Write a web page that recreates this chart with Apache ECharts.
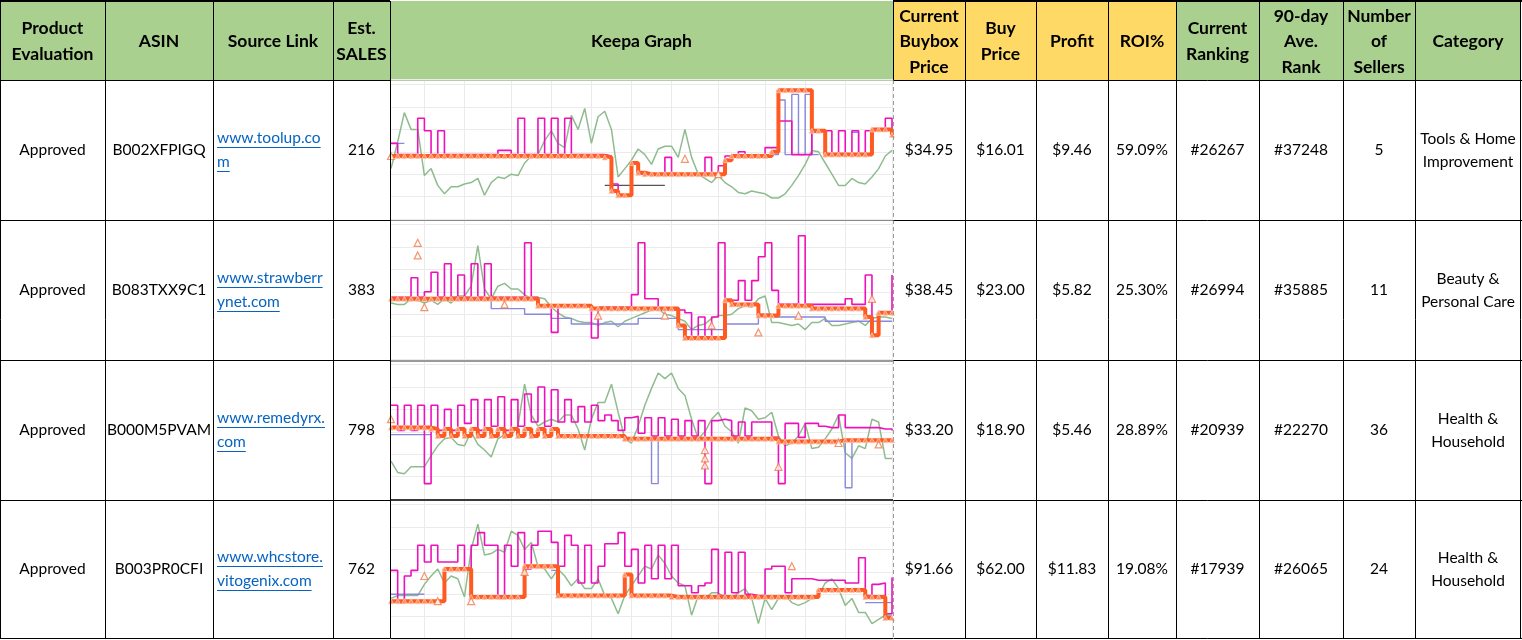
<!DOCTYPE html>
<html>
<head>
<meta charset="utf-8">
<script src="https://cdn.jsdelivr.net/npm/echarts@6/dist/echarts.min.js"></script>
<style>
html, body { margin: 0; padding: 0; background: #fff; }
#chart { width: 1522px; height: 640px; }
</style>
</head>
<body>
<div id="chart"></div>
<script>
// table values
var headers = ["Product\nEvaluation", "ASIN", "Source Link", "Est.\nSALES", "Keepa Graph",
    "Current\nBuybox\nPrice", "Buy\nPrice", "Profit", "ROI%", "Current\nRanking",
    "90-day\nAve.\nRank", "Number\nof\nSellers", "Category"];
var yellowHeaders = ["Current\nBuybox\nPrice", "Buy\nPrice", "Profit", "ROI%"];
var evaluations = ["Approved", "Approved", "Approved", "Approved"];
var asins = ["B002XFPIGQ", "B083TXX9C1", "B000M5PVAM", "B003PR0CFI"];
var sourceLinks = [["www.toolup.co", "m"], ["www.strawberr", "ynet.com"], ["www.remedyrx.", "com"], ["www.whcstore.", "vitogenix.com"]];
var estSales = [216, 383, 798, 762];
var buyboxPrices = ["$34.95", "$38.45", "$33.20", "$91.66"];
var buyPrices = ["$16.01", "$23.00", "$18.90", "$62.00"];
var profits = ["$9.46", "$5.82", "$5.46", "$11.83"];
var rois = ["59.09%", "25.30%", "28.89%", "19.08%"];
var currentRanks = ["#26267", "#26994", "#20939", "#17939"];
var avgRanks = ["#37248", "#35885", "#22270", "#26065"];
var sellerCounts = [5, 11, 36, 24];
var categories = ["Tools & Home\nImprovement", "Beauty &\nPersonal Care", "Health &\nHousehold", "Health &\nHousehold"];

// keepa graphs (rank: 0 = top, prices: 100 = top)
var g1Rank = [64,45,24,36,36,69,64,76,82,77, 77,75,74,71,83,74,70,71,68,69, 60,55,54,44,37,46,49,26,36,21,
    46,27,23,36,70,64,58,50,54,61, 50,48,48,56,36,56,68,71,74,69, 74,77,81,82,80,81,82,85,85,82,
    76,69,61,51,52,60,68,76,76,71, 74,75,70,64,55,51];
var g1Buybox = [54,46,46,46,72,63,46,63,46,46, 46,46,46,46,46,46,49,49,46,72, 46,46,72,46,72,46,72,46,46,46,
    46,46,45,25,17,17,40,32,32,32, 32,44,32,32,32,32,32,44,32,38, 45,45,48,45,45,45,51,51,70,70,
    46,46,46,62,63,63,46,63,46,63, 46,63,63,63,72,63];
var g1Amazon = [45,45,45,45,45,45,45,45,45,45, 45,45,45,45,45,45,45,45,45,45, 45,45,45,45,45,45,45,45,45,45,
    45,45,44,20,17,17,40,33,32,32, 32,32,32,32,32,32,32,32,32,32, 42,45,45,45,45,45,45,48,92,92,
    92,92,92,63,63,46,46,46,46,46, 46,46,64,64,64,60];
var g1New = [54,54,null,null,null,null,null,null,null,null, null,null,null,null,null,null,null,null,null,null,
    null,null,null,null,null,null,null,null,null,null, null,null,null,null,null,null,null,null,null,null,
    null,null,null,null,null,null,null,null,null,null, null,null,null,null,null,null,null,46,85,46,
    89,46,89,46,null,null,null,null,null,62, 46,null,null,null,null,null];
var g1Used = [null,null,null,null,null,null,null,null,null,null, null,null,null,null,null,null,null,null,null,null,
    null,null,null,null,null,null,null,null,null,null, null,null,24,24,24,24,24,24,24,24,
    24,null,null,null,null,null,null,null,null,null, null,null,null,null,null,null,null,null,null,null,
    null,null,null,null,null,null,null,null,null,null, null,null,null,null,null,null];
var g1Marks = [[44, 43], [49, 32], [0, 45]];

var g2Rank = [60,61,61,57,58,60,58,61,57,60, 55,55,48,19,50,57,48,46,50,50, 54,57,56,57,63,67,70,71,73,74,
    74,76,74,73,77,73,71,69,67,65, 64,68,69,71,73,79,76,75,71,69, 69,68,64,62,63,57,55,74,74,75,
    76,75,79,74,74,71,76,76,75,74, 73,76,71,70,70,71];
var g2Buybox = [44,44,44,58,44,48,62,44,68,44, 60,44,68,44,68,44,44,44,44,44, 83,44,38,38,19,38,38,38,38,38,
    15,37,37,37,37,37,46,83,43,43, 35,35,35,35,33,15,30,15,30,83, 42,42,56,42,56,73,83,49,39,39,
    39,88,39,39,39,39,39,39,43,39, 39,60,17,33,33,60];
var g2Amazon = [43,43,43,43,43,43,43,43,43,43, 43,43,43,43,43,43,43,43,43,43, 43,43,38,38,38,38,38,38,38,38,
    36,36,36,36,36,36,36,36,36,36, 36,36,36,24,15,15,15,15,15,15, 42,39,39,39,39,31,31,31,38,38,
    38,38,38,36,36,36,36,36,36,36, 36,30,17,33,33,33];
var g2New = [42,42,42,42,42,42,42,42,42,42, 42,42,42,42,42,36,36,36,36,36, 32,32,32,32,29,29,29,25,25,25,
    25,25,25,25,25,25,25,29,29,29, 29,29,29,21,21,21,21,21,21,21, 25,25,25,25,25,32,32,30,30,30,
    30,30,30,30,30,27,27,27,27,27, 27,27,27,27,27,27];
var g2Marks = [[4, 83], [4, 74], [5, 37], [17, 39], [31, 31], [41, 31], [48, 24], [55, 19], [61, 31], [72, 43]];

var g3Rank = [73,81,82,77,77,77,69,62,57,56, 61,62,52,61,65,70,57,54,54,48, 18,40,48,45,43,45,40,40,50,65,
    43,31,31,18,38,57,60,48,33,21, 10,14,10,21,26,43,57,52,43,38, 48,52,60,35,37,43,42,38,55,62,
    60,55,46,64,63,57,50,40,67,71, 62,64,43,45,71,71];
var g3Buybox = [67,49,67,49,67,11,67,49,64,49, 67,54,71,49,71,52,73,49,71,52, 75,55,80,52,78,55,71,55,66,55,
    67,56,60,56,49,58,59,47,58,45, 58,45,57,45,56,45,56,11,56,57, 56,45,55,45,55,55,55,44,11,54,
    54,44,54,54,52,51,51,60,51,51, 51,51,51,50,50,49];
var g3Amazon = [51,51,51,51,51,51,50,45,50,45, 50,45,50,45,50,45,50,45,50,45, 50,45,50,45,50,45,45,45,45,45,
    45,45,45,45,45,43,43,43,43,43, 43,43,43,43,43,43,43,43,43,43, 43,43,43,43,43,43,43,43,41,41,
    41,41,41,41,41,41,41,42,42,42, 42,42,42,42,42,42];
var g3New = [46,46,46,46,46,46,null,null,null,null, null,null,null,null,null,null,null,null,null,null,
    null,null,null,null,null,null,null,null,null,null, null,null,null,null,null,null,null,null,43,11,
    43,null,null,null,null,null,null,null,null,null, null,null,null,null,null,null,null,null,null,null,
    null,null,null,null,null,null,null,42,8,42, null,null,null,null,null,null];
var g3Marks = [[0, 57], [47, 35], [47, 29], [47, 24], [58, 23], [67, 40], [73, 39]];

var g4Rank = [71,69,69,69,69,61,55,50,60,55, 57,70,36,18,40,39,36,38,23,26, 36,31,48,50,57,50,55,62,57,64,
    64,57,69,71,82,69,62,55,48,50, 40,46,55,60,62,83,69,71,67,67, 71,71,67,64,71,89,71,79,71,69,
    74,76,74,71,69,60,57,64,76,71, 81,81,89,86,83,83];
var g4Buybox = [49,26,45,49,67,55,67,55,55,55, 67,50,67,76,67,67,29,67,52,76, 50,67,77,77,69,52,74,67,40,67,
    40,52,68,68,76,52,64,40,67,43, 67,43,67,38,38,33,38,40,64,31, 62,33,62,32,31,31,50,52,52,33,
    43,43,43,42,42,42,42,42,40,40, 58,31,39,40,18,44];
var g4Amazon = [27,27,27,27,27,27,27,27,50,50, 50,50,30,30,30,30,30,30,30,30, 52,52,52,52,52,31,31,31,31,31,
    31,31,31,31,31,46,31,31,31,31, 31,31,30,30,30,30,30,30,30,30, 30,30,30,30,30,30,30,30,30,30,
    30,30,30,30,35,35,35,35,35,35, 35,30,30,30,15,15];
var g4New = [32,32,32,32,32,null,null,null,null,null, null,49,29,null,null,null,null,null,null,null,
    null,null,null,null,49,31,null,null,null,null, null,null,null,null,null,null,null,null,null,null,
    null,null,null,null,null,null,null,null,null,null, null,null,null,null,null,null,null,null,null,null,
    null,null,null,null,null,null,null,null,null,null, null,26,26,26,26,null];
var g4Marks = [[5, 45], [7, 27], [12, 27], [20, 48], [60, 52]];

var keepaGraphs = [
    { rank: g1Rank, buybox: g1Buybox, amazon: g1Amazon, newPrice: g1New, used: g1Used, marks: g1Marks },
    { rank: g2Rank, buybox: g2Buybox, amazon: g2Amazon, newPrice: g2New, used: null, marks: g2Marks },
    { rank: g3Rank, buybox: g3Buybox, amazon: g3Amazon, newPrice: g3New, used: null, marks: g3Marks },
    { rank: g4Rank, buybox: g4Buybox, amazon: g4Amazon, newPrice: g4New, used: null, marks: g4Marks }
];

// layout
var colEdges = [0, 105, 213, 333, 390, 893, 965, 1036, 1108, 1176, 1259, 1343, 1415, 1521];
var rowEdges = [1, 80, 220, 360, 500, 638];
var gridLineIdx = [5, 11, 18, 24, 30, 36, 42, 49, 56, 62, 68, 75];
var FONT = 'Lato, "Noto Sans", sans-serif';

var sampleDays = [];
for (var d = 0; d < g1Rank.length; d++) sampleDays.push(String(d));

var measureCtx = document.createElement('canvas').getContext('2d');
function textWidth(str, font)
{
    measureCtx.font = font;
    return measureCtx.measureText(str).width;
}

function addText(els, str, x, y, font, fill, align, lineHeight)
{
    els.push({
        type: 'text', x: x, y: y, z: 30,
        style: {
            text: str, font: font, fill: fill,
            align: align, textAlign: align,
            verticalAlign: 'middle', textVerticalAlign: 'middle',
            lineHeight: lineHeight
        }
    });
}

function addLine(els, x1, y1, x2, y2, color, width, dash)
{
    els.push({
        type: 'line', z: 40,
        shape: { x1: x1, y1: y1, x2: x2, y2: y2 },
        style: { stroke: color, lineWidth: width, lineDash: dash || null }
    });
}

function buildTable()
{
    var els = [];
    var headFont = 'bold 17.5px ' + FONT;
    var cellFont = '15.5px ' + FONT;

    // header cells
    headers.forEach(function (h, c) {
        var x0 = colEdges[c], x1 = colEdges[c + 1];
        els.push({
            type: 'rect', z: 0,
            shape: { x: x0, y: 1, width: x1 - x0, height: 79 },
            style: { fill: yellowHeaders.indexOf(h) >= 0 ? '#ffd966' : '#a9d08e' }
        });
        addText(els, h, (x0 + x1) / 2, 41.5, headFont, '#000', 'center', 25.5);
    });

    // body cells
    for (var r = 0; r < asins.length; r++) {
        var cy = (rowEdges[r + 1] + rowEdges[r + 2]) / 2;
        var cells = [evaluations[r], asins[r], null, String(estSales[r]), null, buyboxPrices[r],
            buyPrices[r], profits[r], rois[r], currentRanks[r], avgRanks[r], String(sellerCounts[r]), categories[r]];
        cells.forEach(function (v, c) {
            if (v === null) return;
            var cx = (colEdges[c] + colEdges[c + 1]) / 2;
            addText(els, v, cx, cy, cellFont, '#000', 'center', 23);
        });
        // hyperlink, two lines, underlined
        var lines = sourceLinks[r];
        var lx = colEdges[2] + 4;
        lines.forEach(function (t, k) {
            var ly = cy - 12 + k * 24;
            addText(els, t, lx, ly, cellFont, '#0563c1', 'left', 24);
            addLine(els, lx, ly + 9.5, lx + textWidth(t, cellFont), ly + 9.5, '#0563c1', 1);
        });
    }

    // vertical borders
    colEdges.forEach(function (x, i) {
        if (x === 893) {
            addLine(els, x + 0.5, 1, x + 0.5, 80, '#000', 1);
            addLine(els, x + 0.5, 80, x + 0.5, 640, '#9a9a9a', 1, [4, 3]);
        } else {
            var xx = (i === colEdges.length - 1) ? x - 0.5 : x + 0.5;
            addLine(els, xx, 1, xx, 638.5, '#000', 1);
        }
    });

    // horizontal borders
    addLine(els, 0, 1, 390, 1, '#000', 2);
    addLine(els, 893, 1, 1522, 1, '#000', 2);
    for (var k = 1; k < rowEdges.length; k++) {
        var y = rowEdges[k] + 0.5;
        addLine(els, 0, y, 390.5, y, '#000', 1);
        addLine(els, 893.5, y, 1522, y, '#000', 1);
    }
    addLine(els, 391, 80.5, 893, 80.5, '#b8c9ad', 1);
    addLine(els, 391, 220.5, 893, 220.5, '#8a8a8a', 1);
    addLine(els, 391, 361, 893, 361, '#9a9a9a', 2);
    addLine(els, 391, 500, 893, 500, '#3a3a3a', 2);
    addLine(els, 391, 638.5, 893, 638.5, '#000', 1);
    return els;
}

function buildKeepa()
{
    var grids = [], xAxes = [], yAxes = [], series = [];
    keepaGraphs.forEach(function (g, i) {
        grids.push({ left: 391, top: rowEdges[i + 1] - 1, width: 501, height: 140, show: false });
        xAxes.push({
            type: 'category', gridIndex: i, data: sampleDays, boundaryGap: false,
            axisLine: { show: false }, axisTick: { show: false }, axisLabel: { show: false },
            splitLine: {
                show: true,
                interval: function (idx) { return gridLineIdx.indexOf(idx) >= 0; },
                lineStyle: { color: '#ebebeb', width: 1 }
            }
        });
        // price axis
        yAxes.push({
            type: 'value', gridIndex: i, min: 0, max: 100, interval: 16,
            axisLine: { show: false }, axisTick: { show: false }, axisLabel: { show: false },
            splitLine: { show: true, lineStyle: { color: '#ebebeb', width: 1 } }
        });
        // sales rank axis, inverted like keepa
        yAxes.push({
            type: 'value', gridIndex: i, min: 0, max: 100, inverse: true, show: false,
            splitLine: { show: false }
        });
        var px = 2 * i, rk = 2 * i + 1;
        series.push({
            type: 'line', name: 'Sales Rank', xAxisIndex: i, yAxisIndex: rk, data: g.rank,
            showSymbol: false, z: 1, lineStyle: { color: '#8fbc8f', width: 1.5 }
        });
        series.push({
            type: 'line', name: 'New', xAxisIndex: i, yAxisIndex: px, data: g.newPrice, step: 'end',
            showSymbol: false, connectNulls: false, z: 2, lineStyle: { color: '#8888dd', width: 1.4 }
        });
        if (g.used) {
            series.push({
                type: 'line', name: 'Used', xAxisIndex: i, yAxisIndex: px, data: g.used, step: 'end',
                showSymbol: false, z: 2, lineStyle: { color: '#555555', width: 1.3 }
            });
        }
        series.push({
            type: 'line', name: 'Buy Box', xAxisIndex: i, yAxisIndex: px, data: g.buybox, step: 'end',
            showSymbol: false, z: 3, lineStyle: { color: '#ee10bc', width: 1.6 }
        });
        series.push({
            type: 'line', name: 'Amazon', xAxisIndex: i, yAxisIndex: px, data: g.amazon, step: 'end',
            symbol: 'triangle', symbolSize: 5, showSymbol: true, showAllSymbol: true, z: 4,
            lineStyle: { color: '#ff5a22', width: 4 },
            itemStyle: { color: '#ff8a5c', borderColor: '#ffc7ad', borderWidth: 0.8 }
        });
        series.push({
            type: 'scatter', name: 'Marks', xAxisIndex: i, yAxisIndex: px, data: g.marks,
            symbol: 'triangle', symbolSize: 7, z: 5,
            itemStyle: { color: '#ffffff', borderColor: '#f07a4a', borderWidth: 1.2 }
        });
    });
    return { grid: grids, xAxis: xAxes, yAxis: yAxes, series: series };
}

function onload()
{
    var myChart = echarts.init(document.getElementById('chart'));
    var keepa = buildKeepa();
    var option = {
        animation: false,
        backgroundColor: '#ffffff',
        grid: keepa.grid,
        xAxis: keepa.xAxis,
        yAxis: keepa.yAxis,
        series: keepa.series,
        graphic: { elements: buildTable() }
    };
    myChart.setOption(option);
}

onload();
</script>
</body>
</html>
